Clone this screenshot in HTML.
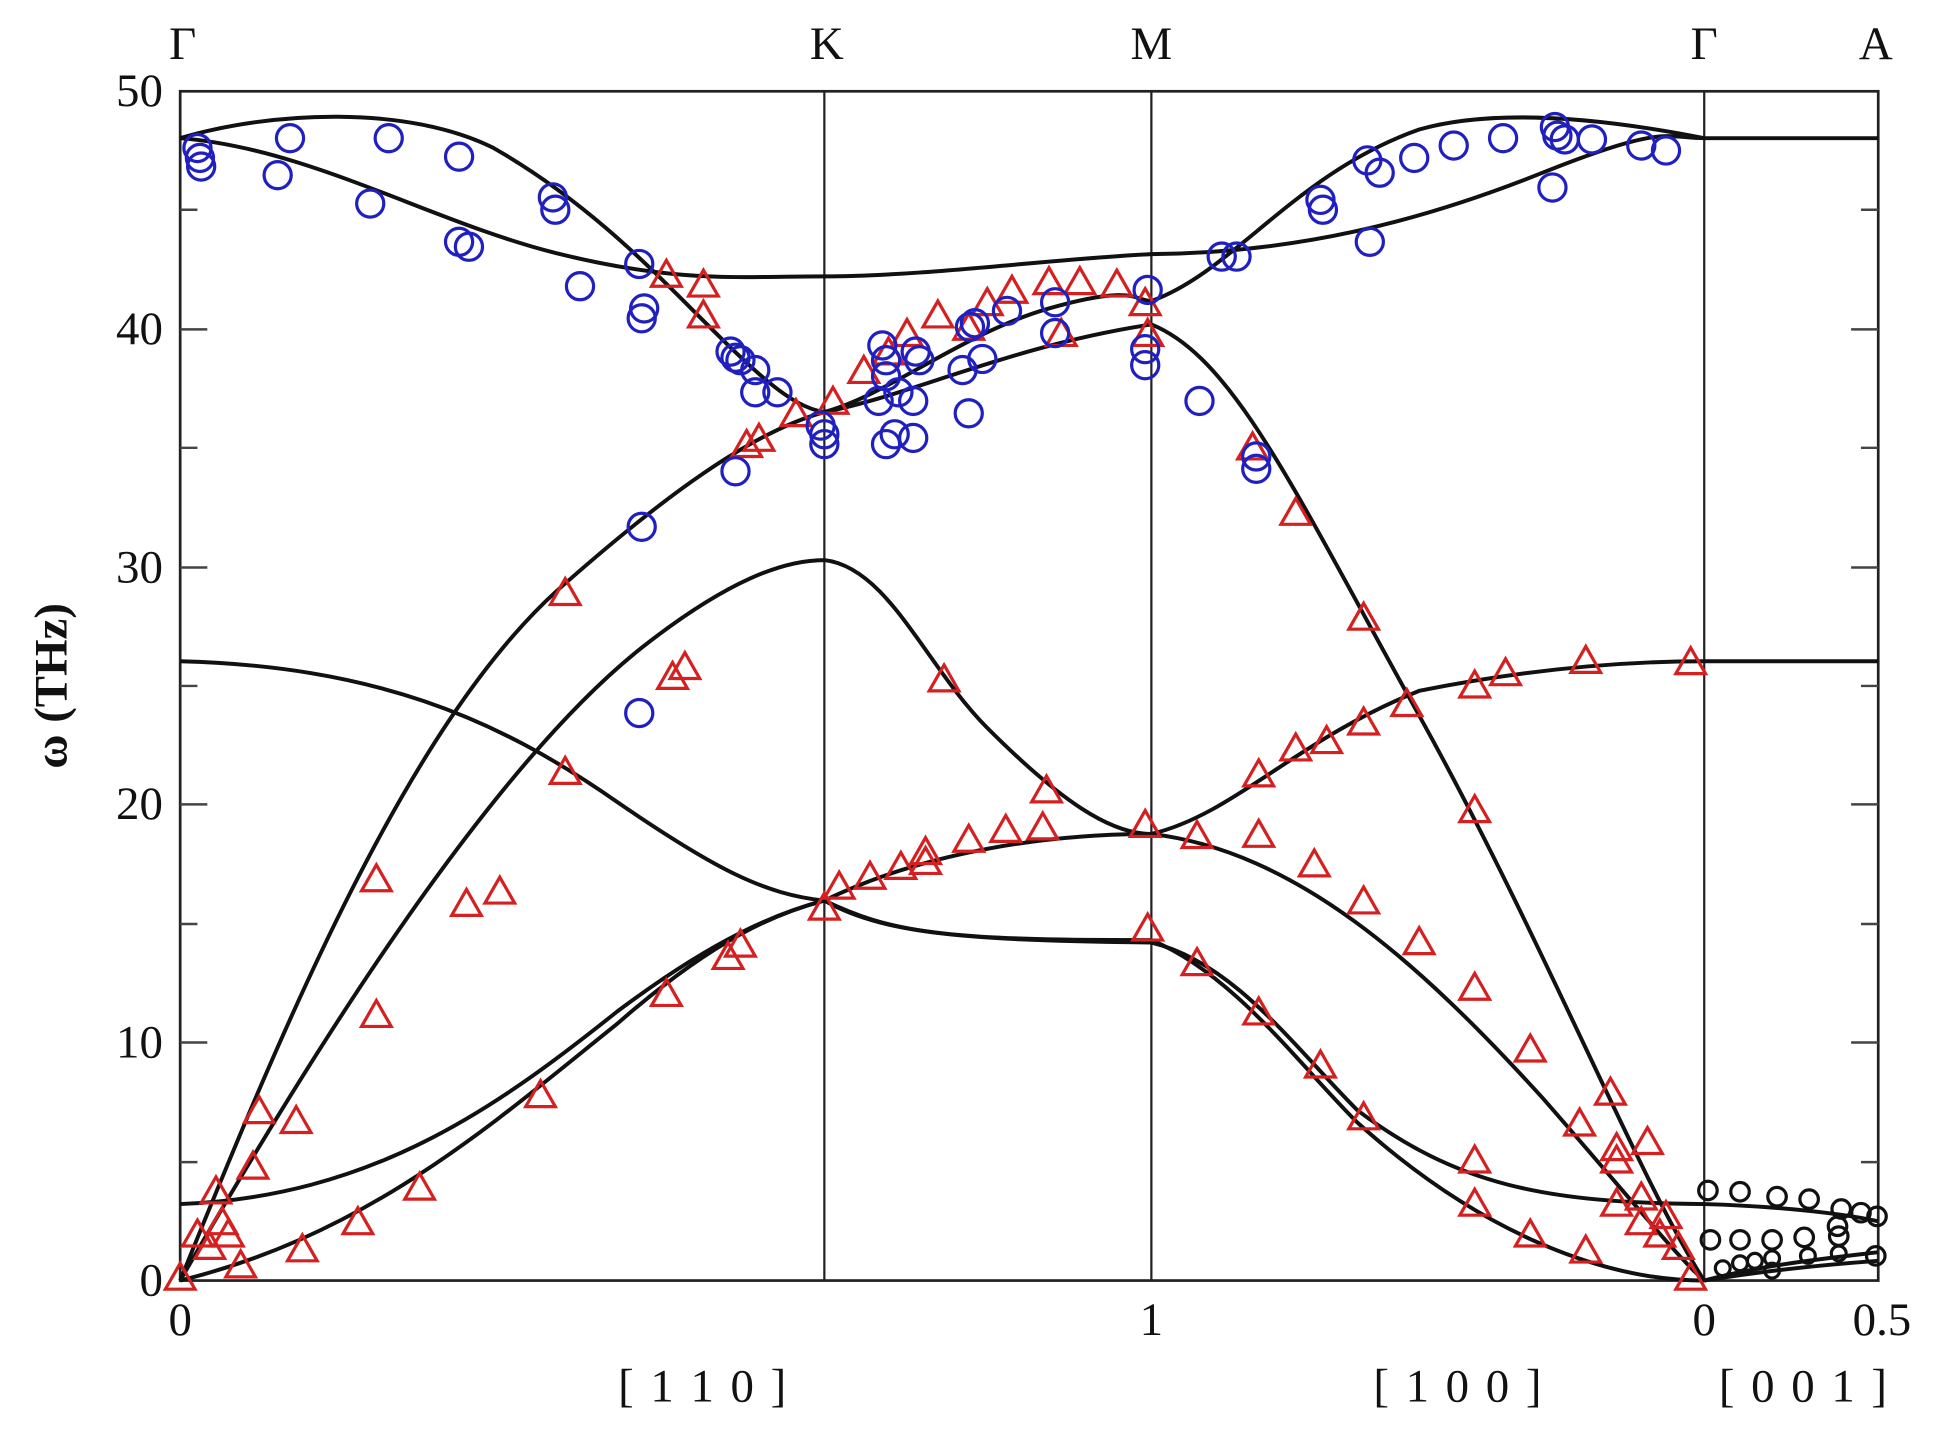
<!DOCTYPE html>
<html><head><meta charset="utf-8"><style>
html,body{margin:0;padding:0;background:#fff;}
svg{display:block;}
text{font-family:"Liberation Serif",serif;fill:#111;}
</style></head><body>
<svg width="1935" height="1436" viewBox="0 0 1568 1164" preserveAspectRatio="none" xmlns="http://www.w3.org/2000/svg">
<defs>
<symbol id="tri" viewBox="-13 -12 26 24" overflow="visible"><polygon points="0,-11 12,10 -12,10" fill="none" stroke="#d42020" stroke-width="2.6"/></symbol>
</defs>
<rect x="146" y="74" width="1376" height="964" fill="none" stroke="#222" stroke-width="2.2"/>
<g stroke="#222" stroke-width="1.8">
<line x1="668" y1="74" x2="668" y2="1038"/>
<line x1="933" y1="74" x2="933" y2="1038"/>
<line x1="1381" y1="74" x2="1381" y2="1038"/>
</g>
<g stroke="#444" stroke-width="2">
<line x1="146" y1="845" x2="168" y2="845"/><line x1="146" y1="652" x2="168" y2="652"/><line x1="146" y1="460" x2="168" y2="460"/><line x1="146" y1="267" x2="168" y2="267"/>
<line x1="146" y1="942" x2="160" y2="942"/><line x1="146" y1="749" x2="160" y2="749"/><line x1="146" y1="556" x2="160" y2="556"/><line x1="146" y1="363" x2="160" y2="363"/><line x1="146" y1="170" x2="160" y2="170"/>
<line x1="1522" y1="845" x2="1500" y2="845"/><line x1="1522" y1="652" x2="1500" y2="652"/><line x1="1522" y1="460" x2="1500" y2="460"/><line x1="1522" y1="267" x2="1500" y2="267"/>
<line x1="1522" y1="942" x2="1508" y2="942"/><line x1="1522" y1="749" x2="1508" y2="749"/><line x1="1522" y1="556" x2="1508" y2="556"/><line x1="1522" y1="363" x2="1508" y2="363"/><line x1="1522" y1="170" x2="1508" y2="170"/>
</g>
<g font-size="38" text-anchor="end">
<text x="132" y="1050">0</text><text x="132" y="857">10</text><text x="132" y="664">20</text><text x="132" y="472">30</text><text x="132" y="279">40</text><text x="132" y="86">50</text>
</g>
<g font-size="38" text-anchor="middle">
<text x="146" y="1082">0</text><text x="933" y="1082">1</text><text x="1381" y="1082">0</text><text x="1525" y="1082">0.5</text>
<text x="570" y="1136" letter-spacing="2">[ 1 1 0 ]</text>
<text x="1182" y="1136" letter-spacing="2">[ 1 0 0 ]</text>
<text x="1462" y="1136" letter-spacing="2">[ 0 0 1 ]</text>
<text x="148" y="48">Γ</text><text x="670" y="48">K</text><text x="933" y="48">M</text><text x="1381" y="48">Γ</text><text x="1520" y="48">A</text>
</g>
<text transform="translate(54,556) rotate(-90)" font-size="38" font-weight="bold" text-anchor="middle">ω (THz)</text>
<g fill="none" stroke="#111" stroke-width="3.2">
<path d="M146,112 C250,120 350,180 450,205 S600,224 668,224 C750,224 850,210 933,206 C1050,205 1150,180 1250,140 S1350,112 1381,112 L1522,112"/>
<path d="M146,112 C220,90 330,85 400,120 C470,160 520,210 560,250 C610,300 640,330 668,334"/>
<path d="M668,334 C720,320 780,270 850,250 S920,244 933,244 C1000,220 1050,140 1150,105 C1220,85 1320,100 1381,112"/>
<path d="M146,1038 C230,830 330,590 450,480 C540,400 610,350 668,334 C740,320 820,280 933,263 C1000,290 1050,400 1150,580 C1250,760 1330,960 1381,1038"/>
<path d="M146,1038 C260,840 400,620 520,525 C590,470 635,454 668,454 C720,460 750,540 800,590 C860,650 900,676 933,676 C1000,660 1050,600 1150,560 C1250,540 1330,536 1381,536 L1522,536"/>
<path d="M146,536 C300,540 400,580 500,650 C580,705 620,725 668,730 C720,755 760,762 933,764 C1000,780 1050,850 1100,900 C1180,960 1250,975 1381,976 C1450,978 1500,985 1522,990"/>
<path d="M146,976 C300,970 400,900 500,820 C580,760 630,740 668,730 C750,690 850,676 933,676 C1050,690 1150,780 1250,890 C1320,970 1360,1020 1381,1038"/>
<path d="M146,1038 C300,1000 400,910 500,830 C580,760 630,740 668,730 C720,760 800,762 933,762 C1000,790 1050,860 1100,910 C1200,1000 1300,1038 1381,1038"/>
<path d="M1381,1038 C1430,1025 1480,1020 1522,1015"/>
<path d="M1381,1038 C1430,1030 1480,1025 1522,1022"/>
</g>
<g>
<use href="#tri" x="133" y="1023" width="26" height="24"/>
<use href="#tri" x="147" y="988" width="26" height="24"/><use href="#tri" x="162" y="953" width="26" height="24"/><use href="#tri" x="167" y="978" width="26" height="24"/><use href="#tri" x="172" y="988" width="26" height="24"/><use href="#tri" x="157" y="998" width="26" height="24"/><use href="#tri" x="182" y="1013" width="26" height="24"/><use href="#tri" x="197" y="888" width="26" height="24"/><use href="#tri" x="192" y="933" width="26" height="24"/><use href="#tri" x="227" y="896" width="26" height="24"/><use href="#tri" x="232" y="1000" width="26" height="24"/><use href="#tri" x="277" y="978" width="26" height="24"/><use href="#tri" x="292" y="700" width="26" height="24"/><use href="#tri" x="292" y="810" width="26" height="24"/><use href="#tri" x="327" y="950" width="26" height="24"/><use href="#tri" x="365" y="720" width="26" height="24"/><use href="#tri" x="392" y="710" width="26" height="24"/><use href="#tri" x="425" y="875" width="26" height="24"/><use href="#tri" x="445" y="468" width="26" height="24"/><use href="#tri" x="445" y="613" width="26" height="24"/><use href="#tri" x="527" y="210" width="26" height="24"/><use href="#tri" x="527" y="793" width="26" height="24"/><use href="#tri" x="532" y="536" width="26" height="24"/><use href="#tri" x="542" y="528" width="26" height="24"/><use href="#tri" x="557" y="218" width="26" height="24"/><use href="#tri" x="557" y="243" width="26" height="24"/><use href="#tri" x="577" y="763" width="26" height="24"/><use href="#tri" x="587" y="753" width="26" height="24"/><use href="#tri" x="592" y="348" width="26" height="24"/><use href="#tri" x="602" y="343" width="26" height="24"/><use href="#tri" x="632" y="323" width="26" height="24"/><use href="#tri" x="655" y="723" width="26" height="24"/><use href="#tri" x="662" y="313" width="26" height="24"/><use href="#tri" x="667" y="706" width="26" height="24"/><use href="#tri" x="687" y="288" width="26" height="24"/><use href="#tri" x="692" y="698" width="26" height="24"/><use href="#tri" x="707" y="273" width="26" height="24"/><use href="#tri" x="717" y="690" width="26" height="24"/><use href="#tri" x="722" y="258" width="26" height="24"/><use href="#tri" x="737" y="686" width="26" height="24"/><use href="#tri" x="737" y="678" width="26" height="24"/><use href="#tri" x="752" y="538" width="26" height="24"/><use href="#tri" x="747" y="243" width="26" height="24"/><use href="#tri" x="772" y="668" width="26" height="24"/><use href="#tri" x="772" y="253" width="26" height="24"/><use href="#tri" x="787" y="233" width="26" height="24"/><use href="#tri" x="802" y="660" width="26" height="24"/><use href="#tri" x="807" y="223" width="26" height="24"/><use href="#tri" x="832" y="658" width="26" height="24"/><use href="#tri" x="835" y="628" width="26" height="24"/><use href="#tri" x="837" y="216" width="26" height="24"/><use href="#tri" x="847" y="258" width="26" height="24"/><use href="#tri" x="862" y="216" width="26" height="24"/><use href="#tri" x="892" y="218" width="26" height="24"/><use href="#tri" x="915" y="233" width="26" height="24"/><use href="#tri" x="915" y="656" width="26" height="24"/><use href="#tri" x="917" y="740" width="26" height="24"/><use href="#tri" x="917" y="258" width="26" height="24"/><use href="#tri" x="957" y="665" width="26" height="24"/><use href="#tri" x="957" y="768" width="26" height="24"/><use href="#tri" x="1002" y="350" width="26" height="24"/><use href="#tri" x="1007" y="615" width="26" height="24"/><use href="#tri" x="1007" y="808" width="26" height="24"/><use href="#tri" x="1007" y="664" width="26" height="24"/><use href="#tri" x="1037" y="403" width="26" height="24"/><use href="#tri" x="1037" y="594" width="26" height="24"/><use href="#tri" x="1052" y="688" width="26" height="24"/><use href="#tri" x="1057" y="851" width="26" height="24"/><use href="#tri" x="1062" y="588" width="26" height="24"/><use href="#tri" x="1092" y="488" width="26" height="24"/><use href="#tri" x="1092" y="573" width="26" height="24"/><use href="#tri" x="1092" y="718" width="26" height="24"/><use href="#tri" x="1092" y="893" width="26" height="24"/><use href="#tri" x="1127" y="558" width="26" height="24"/><use href="#tri" x="1137" y="751" width="26" height="24"/><use href="#tri" x="1182" y="543" width="26" height="24"/><use href="#tri" x="1182" y="644" width="26" height="24"/><use href="#tri" x="1182" y="788" width="26" height="24"/><use href="#tri" x="1182" y="928" width="26" height="24"/><use href="#tri" x="1182" y="963" width="26" height="24"/><use href="#tri" x="1207" y="533" width="26" height="24"/><use href="#tri" x="1227" y="838" width="26" height="24"/><use href="#tri" x="1227" y="988" width="26" height="24"/><use href="#tri" x="1272" y="523" width="26" height="24"/><use href="#tri" x="1272" y="1001" width="26" height="24"/><use href="#tri" x="1267" y="898" width="26" height="24"/><use href="#tri" x="1292" y="873" width="26" height="24"/><use href="#tri" x="1297" y="963" width="26" height="24"/><use href="#tri" x="1297" y="928" width="26" height="24"/><use href="#tri" x="1297" y="918" width="26" height="24"/><use href="#tri" x="1317" y="958" width="26" height="24"/><use href="#tri" x="1317" y="978" width="26" height="24"/><use href="#tri" x="1322" y="913" width="26" height="24"/><use href="#tri" x="1332" y="988" width="26" height="24"/><use href="#tri" x="1337" y="973" width="26" height="24"/><use href="#tri" x="1347" y="998" width="26" height="24"/><use href="#tri" x="1357" y="524" width="26" height="24"/><use href="#tri" x="1357" y="1023" width="26" height="24"/>
</g>
<g fill="none" stroke="#2020c0" stroke-width="2.6">
<circle cx="160" cy="120" r="11"/><circle cx="162" cy="128" r="11"/><circle cx="163" cy="135" r="11"/><circle cx="225" cy="142" r="11"/><circle cx="235" cy="112" r="11"/><circle cx="300" cy="165" r="11"/><circle cx="315" cy="112" r="11"/><circle cx="372" cy="127" r="11"/><circle cx="372" cy="196" r="11"/><circle cx="380" cy="200" r="11"/><circle cx="448" cy="160" r="11"/><circle cx="450" cy="170" r="11"/><circle cx="470" cy="232" r="11"/><circle cx="518" cy="214" r="11"/><circle cx="520" cy="258" r="11"/><circle cx="522" cy="250" r="11"/><circle cx="518" cy="578" r="11"/><circle cx="520" cy="427" r="11"/><circle cx="592" cy="285" r="11"/><circle cx="596" cy="290" r="11"/><circle cx="596" cy="382" r="11"/><circle cx="600" cy="292" r="11"/><circle cx="612" cy="300" r="11"/><circle cx="612" cy="318" r="11"/><circle cx="630" cy="318" r="11"/><circle cx="665" cy="345" r="11"/><circle cx="668" cy="352" r="11"/><circle cx="668" cy="360" r="11"/><circle cx="715" cy="280" r="11"/><circle cx="718" cy="292" r="11"/><circle cx="718" cy="305" r="11"/><circle cx="718" cy="360" r="11"/><circle cx="725" cy="352" r="11"/><circle cx="740" cy="325" r="11"/><circle cx="740" cy="355" r="11"/><circle cx="742" cy="285" r="11"/><circle cx="745" cy="292" r="11"/><circle cx="712" cy="325" r="11"/><circle cx="728" cy="318" r="11"/><circle cx="780" cy="300" r="11"/><circle cx="786" cy="265" r="11"/><circle cx="785" cy="335" r="11"/><circle cx="790" cy="262" r="11"/><circle cx="796" cy="291" r="11"/><circle cx="816" cy="252" r="11"/><circle cx="855" cy="270" r="11"/><circle cx="855" cy="245" r="11"/><circle cx="930" cy="235" r="11"/><circle cx="928" cy="283" r="11"/><circle cx="928" cy="296" r="11"/><circle cx="972" cy="325" r="11"/><circle cx="990" cy="208" r="11"/><circle cx="1002" cy="208" r="11"/><circle cx="1018" cy="380" r="11"/><circle cx="1018" cy="370" r="11"/><circle cx="1070" cy="162" r="11"/><circle cx="1072" cy="170" r="11"/><circle cx="1110" cy="196" r="11"/><circle cx="1108" cy="130" r="11"/><circle cx="1118" cy="140" r="11"/><circle cx="1146" cy="128" r="11"/><circle cx="1178" cy="118" r="11"/><circle cx="1218" cy="112" r="11"/><circle cx="1258" cy="152" r="11"/><circle cx="1260" cy="103" r="11"/><circle cx="1262" cy="110" r="11"/><circle cx="1268" cy="113" r="11"/><circle cx="1290" cy="113" r="11"/><circle cx="1330" cy="118" r="11"/><circle cx="1350" cy="122" r="11"/>
</g>
<g fill="none" stroke="#111" stroke-width="2.6">
<circle cx="1384" cy="965" r="7.5"/><circle cx="1410" cy="966" r="7.5"/><circle cx="1440" cy="970" r="7.5"/><circle cx="1466" cy="972" r="7.5"/><circle cx="1492" cy="980" r="7.5"/><circle cx="1508" cy="983" r="7.5"/><circle cx="1521" cy="986" r="7.5"/>
<circle cx="1386" cy="1005" r="7.5"/><circle cx="1410" cy="1005" r="7.5"/><circle cx="1436" cy="1005" r="7.5"/><circle cx="1462" cy="1003" r="7.5"/><circle cx="1490" cy="1002" r="7.5"/><circle cx="1489" cy="994" r="7.5"/>
<circle cx="1396" cy="1028" r="6"/><circle cx="1410" cy="1024" r="6"/><circle cx="1422" cy="1022" r="6"/><circle cx="1436" cy="1020" r="6"/><circle cx="1436" cy="1030" r="6"/><circle cx="1465" cy="1018" r="6"/><circle cx="1490" cy="1016" r="6"/><circle cx="1520" cy="1018" r="7.5"/>
</g>
</svg>
</body></html>
